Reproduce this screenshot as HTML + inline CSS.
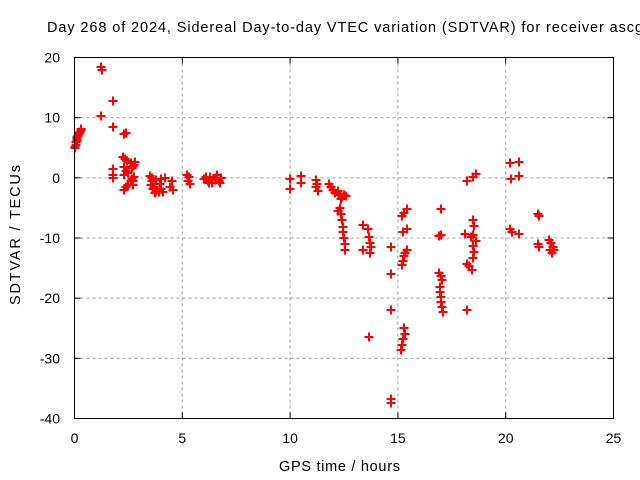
<!DOCTYPE html>
<html><head><meta charset="utf-8"><style>
body{margin:0;background:#fff;}
svg{display:block;font-family:"Liberation Sans",sans-serif;}
</style></head><body>
<svg id="c" width="640" height="480">
<rect width="640" height="480" fill="#fff"/>
<g id="grid"></g><g id="ticks"></g><g id="pts"></g>
<rect x="74.5" y="57.5" width="539" height="361" fill="none" stroke="#000"/>
<text x="47" y="32" font-size="14.5" textLength="596" lengthAdjust="spacing">Day 268 of 2024, Sidereal Day-to-day VTEC variation (SDTVAR) for receiver ascg</text>
<text x="279" y="471" font-size="14.5" textLength="121" lengthAdjust="spacing">GPS time / hours</text>
<text transform="translate(20,305) rotate(-90)" font-size="14.5" textLength="140" lengthAdjust="spacing">SDTVAR / TECUs</text>
</svg>
<script>
const xTicks=[0,5,10,15,20,25];
const yTicks=[20,10,0,-10,-20,-30,-40];
const hours=[0.02,0.05,0.08,0.1,0.13,0.16,0.2,0.24,0.28,0.3,0.04,0.12,0.18,0.22,
1.25,1.27,1.25,1.8,1.8,1.8,1.8,1.8,2.3,2.4,
2.25,2.35,2.45,2.3,2.4,2.5,2.3,2.6,2.7,2.8,2.65,2.75,2.3,2.4,2.5,2.6,2.7,2.7,2.75,2.65,
3.5,3.6,3.7,3.8,3.9,4.0,3.6,3.8,4.0,4.2,3.65,3.75,4.1,3.55,3.95,4.5,4.55,4.45,
5.2,5.3,5.25,5.35,
6.0,6.1,6.2,6.3,6.4,6.5,6.6,6.7,6.8,6.25,6.55,6.75,
10.0,10.0,10.5,10.5,11.2,11.25,11.2,11.3,
11.8,11.9,12.0,12.1,12.2,12.3,12.4,12.5,12.6,12.35,
12.3,12.35,12.4,12.45,12.45,12.5,12.55,12.55,12.2,
13.4,13.4,13.6,13.65,13.7,13.75,13.7,13.65,
14.7,14.7,14.7,14.7,14.7,
15.2,15.3,15.4,15.25,15.4,15.2,15.25,15.3,15.35,15.4,15.3,15.35,15.25,15.2,15.15,
17.0,17.0,16.9,16.9,17.0,17.05,16.95,16.95,17.0,17.0,17.05,17.1,
18.2,18.5,18.6,18.1,18.2,18.3,18.2,18.5,18.55,18.5,18.6,18.5,18.55,18.5,18.45,18.4,
20.2,20.6,20.25,20.6,20.2,20.3,20.6,
21.5,21.55,21.5,21.55,22.0,22.1,22.2,22.05,22.15,22.25];
const sdtvar=[5,5.5,6,6.5,6.8,7,7.3,7.6,7.9,8.1,5.2,6.2,6.9,7.5,
18.4,17.9,10.2,12.7,8.5,1.5,0.5,0,7.3,7.5,
3.5,3.2,2.8,1.8,1.2,0.8,0.5,2.5,2.0,2.6,1.6,2.2,-2,-1.6,-1.2,-0.6,-0.5,-1.2,0.2,-0.2,
0.3,-0.5,-1.5,-2.2,-2.3,-1.8,0,-0.3,-0.2,0,-1.8,-2.5,-2.4,-1.2,-1.0,-0.5,-2.0,-1.5,
0.5,0.2,-0.6,-1.0,
-0.2,0.1,-0.5,0.2,-0.8,-0.3,0.5,-0.6,0,-0.9,-0.1,-0.8,
-0.2,-1.8,0.3,-0.8,-0.4,-1.0,-1.6,-2.2,
-1.0,-1.5,-2.0,-2.5,-2.2,-2.8,-3.2,-2.8,-3.0,-3.6,
-5.0,-6.0,-7.0,-8.2,-9.0,-10.0,-11.0,-12.0,-5.5,
-7.8,-12.0,-8.5,-9.8,-10.8,-11.5,-12.5,-26.5,
-11.5,-16.0,-22.0,-36.8,-37.5,
-6.3,-5.8,-5.2,-9.0,-8.5,-14.5,-13.8,-13.0,-12.5,-12.0,-25.0,-26.0,-26.8,-27.8,-28.6,
-5.2,-9.5,-9.6,-15.8,-16.3,-17.0,-18.2,-19.0,-19.8,-20.6,-21.4,-22.3,
-0.5,0.2,0.6,-9.3,-14.3,-14.6,-22.0,-7.0,-8.0,-9.5,-10.5,-11.3,-12.3,-13.3,-15.3,-9.8,
2.5,2.6,-0.2,0.3,-8.5,-9.0,-9.3,
-6.0,-6.3,-11.0,-11.5,-10.3,-10.8,-11.5,-12.0,-12.5,-12.0];
const X0=74.5,X1=613.5,Y0=57.5,Y1=418.5;
const xs=h=>X0+(h-0)/25*(X1-X0);
const ys=v=>Y0+(20-v)/60*(Y1-Y0);
const NS='http://www.w3.org/2000/svg';
function mk(t,a,p){const e=document.createElementNS(NS,t);for(const k in a)e.setAttribute(k,a[k]);p.appendChild(e);return e;}
const grid=document.getElementById('grid'),ticks=document.getElementById('ticks'),pts=document.getElementById('pts');
xTicks.forEach(t=>{const x=xs(t);
 if(t>0&&t<25){const g=mk('line',{x1:x,x2:x,y1:Y0,y2:Y1,stroke:'#a0a0a0','stroke-dasharray':'3,3'},grid);
 
 }
 mk('line',{x1:x,x2:x,y1:Y1,y2:Y1-6,stroke:'#000'},ticks);
 mk('line',{x1:x,x2:x,y1:Y0,y2:Y0+6,stroke:'#000'},ticks);
 const l=mk('text',{x:x,y:443,'font-size':14,'text-anchor':'middle'},ticks);l.textContent=t;
 
 });
yTicks.forEach(t=>{const y=ys(t);
 if(t<20&&t>-40){const g=mk('line',{x1:X0,x2:X1,y1:y,y2:y,stroke:'#a0a0a0','stroke-dasharray':'3,3'},grid);
 
 }
 mk('line',{x1:X0,x2:X0+6,y1:y,y2:y,stroke:'#000'},ticks);
 mk('line',{x1:X1,x2:X1-6,y1:y,y2:y,stroke:'#000'},ticks);
 const l=mk('text',{x:60,y:y+5,'font-size':14,'text-anchor':'end'},ticks);l.textContent=t;
 
 });
hours.forEach((h,i)=>{const x=Math.round(xs(h)),y=Math.round(ys(sdtvar[i]));
 const p=mk('path',{d:`M${x-4.5},${y}H${x+4.5}M${x},${y-4.5}V${y+4.5}`,stroke:'#f00','stroke-width':2},pts);
 
 });
</script>
</body></html>
